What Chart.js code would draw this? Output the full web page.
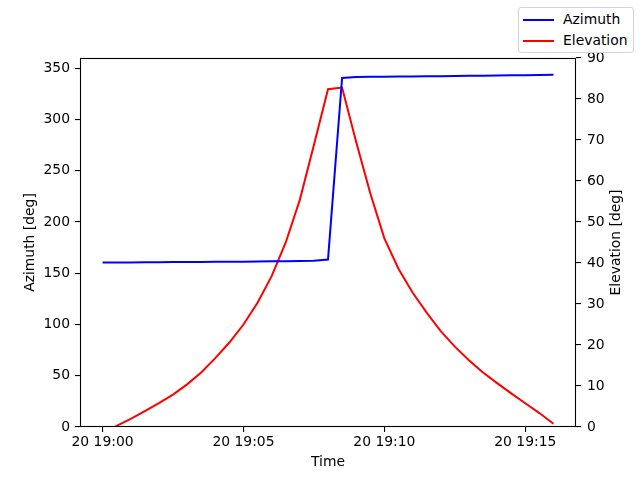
<!DOCTYPE html>
<html><head><meta charset="utf-8">
<script src="https://cdn.jsdelivr.net/npm/chart.js@4/dist/chart.umd.min.js"></script>
<style>
body{margin:0;background:#fff;}
#wrap{position:relative;width:640px;height:480px;overflow:hidden;}
#c{position:absolute;left:0;top:0;}
.leg{position:absolute;left:518px;top:7px;width:114px;height:44px;border:1px solid #d4d4d4;border-radius:3px;background:#fff;font:13.9px "DejaVu Sans";color:#000;}
.row{position:absolute;left:0;height:16px;}
.ln{position:absolute;left:4px;width:31px;height:0;border-top:2px solid;}
.tx{position:absolute;left:44px;top:0;white-space:nowrap;line-height:16px;}
</style></head>
<body>
<div id="wrap">
<canvas id="c" width="640" height="480"></canvas>
<div class="leg">
 <div class="row" style="top:3px"><div class="ln" style="top:8px;border-color:#0000ff"></div><div class="tx">Azimuth</div></div>
 <div class="row" style="top:24px"><div class="ln" style="top:8px;border-color:#ff0000"></div><div class="tx">Elevation</div></div>
</div>
</div>
<script>
// minutes after 20 19:00
const minutes = [0,0.5,1,1.5,2,2.5,3,3.5,4,4.5,5,5.5,6,6.5,7,7.5,8,8.5,9,9.5,10,10.5,11,11.5,12,12.5,13,13.5,14,14.5,15,15.5,16];
const azimuth = [160.5,160.6,160.6,160.7,160.8,160.9,160.9,161.0,161.1,161.2,161.3,161.4,161.6,161.7,161.9,162.2,163.3,340.6,341.4,341.6,341.8,341.9,342.0,342.2,342.3,342.5,342.6,342.8,342.9,343.1,343.2,343.4,343.6];
const elevation = [-1.6,0.3,2.0,3.9,5.8,7.9,10.4,13.3,16.8,20.6,25.0,30.3,36.8,45.0,55.4,68.8,82.4,82.8,69.5,57.0,46.0,38.6,32.8,27.9,23.4,19.6,16.3,13.3,10.7,8.2,5.8,3.4,0.8];
const xTickValues = [0,5,10,15];
const xTickLabels = ["20 19:00","20 19:05","20 19:10","20 19:15"];
const azTicks = [0,50,100,150,200,250,300,350];
const elTicks = [0,10,20,30,40,50,60,70,80,90];

const FONT = {family:'"DejaVu Sans"', size:13.9};

const framePlugin = {
  id:'frame',
  afterDraw(chart){
    const ctx = chart.ctx, a = chart.chartArea;
    ctx.save();
    ctx.strokeStyle = '#000'; ctx.lineWidth = 1.1;
    ctx.strokeRect(Math.round(a.left)+0.5, Math.round(a.top)+0.5, Math.round(a.right-a.left)-1, Math.round(a.bottom-a.top)-1);
    ctx.fillStyle = '#000';
    ctx.font = '13.9px "DejaVu Sans"';
    ctx.textAlign = 'center'; ctx.textBaseline = 'middle';
    ctx.fillText('Time', (a.left+a.right)/2, 462);
    ctx.translate(30.5, (a.top+a.bottom)/2); ctx.rotate(-Math.PI/2);
    ctx.fillText('Azimuth [deg]', 0, 0);
    ctx.restore();
    ctx.save();
    ctx.fillStyle = '#000';
    ctx.font = '13.9px "DejaVu Sans"';
    ctx.textAlign = 'center'; ctx.textBaseline = 'middle';
    ctx.translate(616, (a.top+a.bottom)/2); ctx.rotate(-Math.PI/2);
    ctx.fillText('Elevation [deg]', 0, 0);
    ctx.restore();
  }
};

new Chart(document.getElementById('c'), {
  type:'line',
  data:{
    datasets:[
      {label:'Azimuth', data:minutes.map((m,i)=>({x:m,y:azimuth[i]})), yAxisID:'yAz', borderColor:'#0000ff', borderWidth:2, pointRadius:0, tension:0, fill:false},
      {label:'Elevation', data:minutes.map((m,i)=>({x:m,y:elevation[i]})), yAxisID:'yEl', borderColor:'#ff0000', borderWidth:2, pointRadius:0, tension:0, fill:false}
    ]
  },
  options:{
    responsive:false, animation:false, devicePixelRatio:1,
    layout:{padding:{top:58,left:0,right:0,bottom:0}},
    plugins:{legend:{display:false}, tooltip:{enabled:false}},
    scales:{
      x:{type:'linear', min:-0.8, max:16.8,
        afterFit(s){s.height=53;},
        afterBuildTicks(s){s.ticks = xTickValues.map(v=>({value:v}));},
        ticks:{color:'#000', font:FONT, padding:2, maxRotation:0, autoSkip:false,
          callback:(v)=>{const i=xTickValues.indexOf(v);return i>=0?xTickLabels[i]:'';}},
        grid:{drawOnChartArea:false, drawTicks:true, tickLength:5, color:'#000', lineWidth:1.1},
        border:{display:false}
      },
      yAz:{type:'linear', position:'left', min:0, max:360,
        afterFit(s){s.width=80;},
        afterBuildTicks(s){s.ticks = azTicks.map(v=>({value:v}));},
        ticks:{color:'#000', font:FONT, padding:5, autoSkip:false},
        grid:{drawOnChartArea:false, drawTicks:true, tickLength:5, color:'#000', lineWidth:1.1},
        border:{display:false}
      },
      yEl:{type:'linear', position:'right', min:0, max:90,
        afterFit(s){s.width=64;},
        afterBuildTicks(s){s.ticks = elTicks.map(v=>({value:v}));},
        ticks:{color:'#000', font:FONT, padding:6, autoSkip:false},
        grid:{drawOnChartArea:false, drawTicks:true, tickLength:5, color:'#000', lineWidth:1.1},
        border:{display:false}
      }
    }
  },
  plugins:[framePlugin]
});
</script>
</body></html>
